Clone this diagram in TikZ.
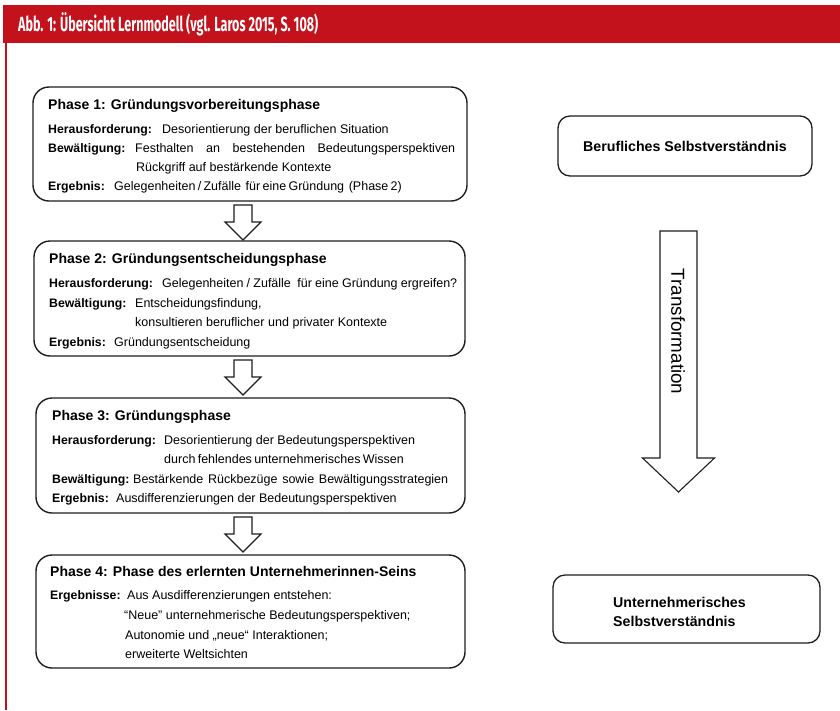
\documentclass[tikz,border=0pt]{standalone}
\usepackage{fontspec}
\usepackage{graphicx}
\setmainfont{Liberation Sans}
\newfontfamily\firab{Fira Sans}
\usetikzlibrary{calc}
\definecolor{hdrred}{RGB}{196,18,28}
\definecolor{ink}{RGB}{30,30,30}
\newcommand\fitto[2]{\hbox to #1{#2}}
\hbadness=10000
\begin{document}
\begin{tikzpicture}[x=1pt,y=-1pt,
  phasebox/.style={draw=ink, line width=1.4pt, rounded corners=16pt, inner sep=0pt},
  rbox/.style={draw=ink, line width=1.3pt, rounded corners=12pt, inner sep=0pt},
  ttl/.style={anchor=base west, inner sep=0pt, font=\fontsize{14}{16}\selectfont\bfseries},
  lbl/.style={anchor=base west, inner sep=0pt, font=\fontsize{12.3}{14}\selectfont\bfseries},
  txt/.style={anchor=base west, inner sep=0pt, font=\fontsize{12.5}{14}\selectfont},
  blk/.style={draw=ink, line width=1.1pt, fill=white, line join=miter},
]
\useasboundingbox (0,0) rectangle (840,710);
\fill[white] (0,0) rectangle (840,710);
\fill[hdrred] (3,5) rectangle (840,43);
\fill[hdrred] (5,43) rectangle (7,710);
\node[anchor=west, text=white, inner sep=0pt, font=\firab\bfseries\fontsize{20.5}{20}\selectfont] (hdr) at (18,24) {\resizebox{300pt}{\height}{Abb. 1: Übersicht Lernmodell (vgl. Laros 2015, S. 108)}};

% phase boxes
\node[phasebox, minimum width=434pt, minimum height=114pt] (p1) at (250,144) {};
\node[phasebox, minimum width=431pt, minimum height=115pt] (p2) at (249.5,298.5) {};
\node[phasebox, minimum width=429pt, minimum height=115pt] (p3) at (250.5,455.5) {};
\node[phasebox, minimum width=429pt, minimum height=113pt] (p4) at (250.5,611.5) {};

% phase 1 text
\node[ttl] (t1) at (48,109.5) {Phase 1: Gründungsvorbereitungsphase};
\node[lbl] (t1a) at (48,133) {Herausforderung:};
\node[txt] (t1b) at (162,133) {Desorientierung der beruflichen Situation};
\node[lbl] (t1c) at (48,152.5) {Bewältigung:};
\node[txt] (t1d) at (135,152.5) {\fitto{320pt}{Festhalten an bestehenden Bedeutungsperspektiven}};
\node[txt] (t1e) at (136,171) {Rückgriff auf bestärkende Kontexte};
\node[lbl] (t1f) at (48,190) {Ergebnis:};
\node[txt] (t1g) at (114,190) {\fitto{283pt}{Gelegenheiten / Zufälle \ für eine Gründung \ (Phase 2)}};

% phase 2 text
\node[ttl] (t2) at (49,263) {Phase 2: Gründungsentscheidungsphase};
\node[lbl] (t2a) at (49,287.5) {Herausforderung:};
\node[txt] (t2b) at (162,287.5) {\fitto{295pt}{Gelegenheiten / Zufälle \ für eine Gründung ergreifen?}};
\node[lbl] (t2c) at (49,307) {Bewältigung:};
\node[txt] (t2d) at (135,307) {Entscheidungsfindung,};
\node[txt] (t2e) at (135,326.5) {\fitto{252pt}{konsultieren beruflicher und privater Kontexte}};
\node[lbl] (t2f) at (49,346) {Ergebnis:};
\node[txt] (t2g) at (114,346) {Gründungsentscheidung};

% phase 3 text
\node[ttl] (t3) at (52,420) {Phase 3: Gründungsphase};
\node[lbl] (t3a) at (52,444) {Herausforderung:};
\node[txt] (t3b) at (164,444) {Desorientierung der Bedeutungsperspektiven};
\node[txt] (t3c) at (164,463.5) {\fitto{239pt}{durch fehlendes unternehmerisches Wissen}};
\node[lbl] (t3d) at (52,483) {Bewältigung:};
\node[txt] (t3e) at (133,483) {\fitto{315pt}{Bestärkende Rückbezüge sowie Bewältigungsstrategien}};
\node[lbl] (t3f) at (52,502) {Ergebnis:};
\node[txt] (t3g) at (116,502) {Ausdifferenzierungen der Bedeutungsperspektiven};

% phase 4 text
\node[ttl] (t4) at (50,576.5) {Phase 4: Phase des erlernten Unternehmerinnen-Seins};
\node[lbl] (t4a) at (50,599) {Ergebnisse:};
\node[txt] (t4b) at (127,599) {Aus Ausdifferenzierungen entstehen:};
\node[txt] (t4c) at (124,619) {“Neue” unternehmerische Bedeutungsperspektiven;};
\node[txt] (t4d) at (125,639) {Autonomie und „neue“ Interaktionen;};
\node[txt] (t4e) at (125,658.5) {erweiterte Weltsichten};

% block arrows between phases
\coordinate (a1) at (243,240);
\coordinate (a2) at (243,395);
\coordinate (a3) at (243,552);
\foreach \a in {a1,a2,a3}{
  \draw[blk] (\a) -- ++(-18,-18) -- ++(9,0) -- ++(0,-17) -- ++(18,0) -- ++(0,17) -- ++(9,0) -- cycle;
}

% right side
\node[rbox, minimum width=254pt, minimum height=60pt, font=\fontsize{14.2}{16}\selectfont\bfseries] (r1) at (685,146) {Berufliches Selbstverständnis};
\node[rbox, minimum width=267pt, minimum height=68pt] (r2) at (686.5,609) {};
\node[anchor=base west, inner sep=0pt, font=\fontsize{14.2}{16}\selectfont\bfseries] (r2a) at (613,607) {Unternehmerisches};
\node[anchor=base west, inner sep=0pt, font=\fontsize{14.2}{16}\selectfont\bfseries] (r2b) at (613,626) {Selbstverständnis};

\coordinate (ttip) at (678.5,492);
\draw[blk] (ttip) -- ++(-36,-34) -- ++(17.5,0) -- ++(0,-227) -- ++(37,0) -- ++(0,227) -- ++(17.5,0) -- cycle;
\node[rotate=-90, inner sep=0pt, font=\fontsize{18.8}{20}\selectfont] (trf) at (678,331.5) {Transformation};
\end{tikzpicture}
\end{document}
